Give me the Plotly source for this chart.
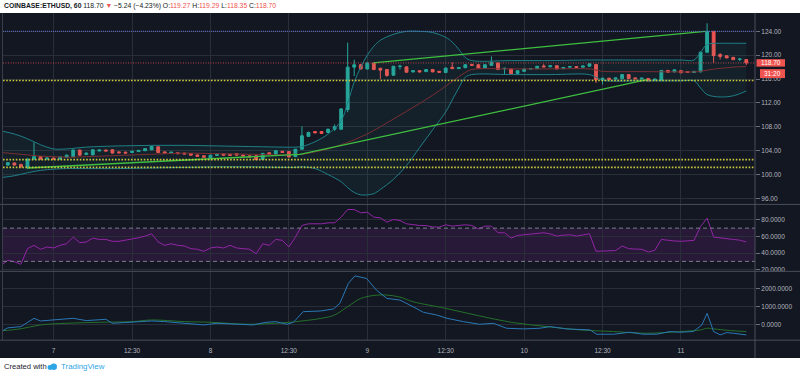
import plotly.graph_objects as go
from plotly.subplots import make_subplots

W, H = 800, 377

# ---------------- data ----------------
candle_idx = list(range(-7, 107))
opens = [101.6, 101.95, 101.7, 101.2, 102.6, 103.0, 102.6, 102.75, 102.6, 102.9,
         103.0, 104.1, 103.35, 103.3, 103.95, 104.1, 104.15, 103.8, 103.75, 103.7,
         103.85, 104.0, 104.15, 104.65, 103.8, 103.6, 103.65, 103.6, 103.5, 103.3,
         103.15, 102.75, 103.2, 103.45, 103.4, 103.5, 103.3, 103.15, 103.15, 102.55,
         103.65, 103.4, 103.9, 103.85, 103.0, 104.25, 106.4, 107.2, 107.2, 107.05,
         107.6, 107.6, 110.9, 118.0, 118.4, 117.7, 118.7, 117.8, 117.6, 116.65,
         118.1, 118.05, 117.2, 117.4, 117.25, 117.6, 117.3, 117.1, 117.97, 117.75,
         117.9, 118.45, 118.4, 117.85, 118.3, 118.7, 117.75, 117.7, 116.95, 117.3,
         117.7, 117.75, 118.2, 118.05, 118.25, 117.75, 118.0, 118.1, 118.0, 118.15,
         118.45, 115.9, 116.15, 116.0, 116.05, 116.75, 116.2, 116.0, 116.1, 115.8,
         115.75, 117.45, 117.2, 117.4, 117.25, 117.1, 117.2, 120.5, 124.0, 120.1,
         119.9, 119.65, 119.3, 119.27]
highs = [102.1, 102.0, 101.8, 102.7, 105.4, 103.1, 102.9, 102.9, 103.0, 103.35,
         104.2, 104.2, 103.7, 104.25, 104.2, 104.2, 104.2, 103.9, 103.85, 104.0,
         104.1, 104.4, 104.8, 104.7, 103.9, 103.8, 103.7, 103.65, 103.6, 103.35,
         103.2, 103.3, 103.5, 103.5, 103.45, 103.55, 103.35, 103.2, 103.2, 103.6,
         103.7, 104.05, 103.95, 103.9, 104.3, 108.1, 107.2, 107.3, 107.3, 107.7,
         108.4, 111.1, 122.1, 119.25, 118.5, 118.8, 118.8, 117.9, 117.7, 118.2,
         118.4, 118.1, 117.5, 117.5, 117.65, 117.65, 117.35, 117.9, 118.8, 118.0,
         118.5, 118.55, 118.5, 118.5, 119.8, 118.8, 117.9, 117.75, 117.45, 117.75,
         117.8, 118.2, 118.5, 118.3, 118.3, 118.0, 118.15, 118.15, 118.25, 118.6,
         118.5, 116.2, 116.2, 116.25, 116.8, 116.8, 116.25, 116.2, 116.15, 116.05,
         117.5, 117.5, 117.6, 117.45, 117.3, 117.35, 120.6, 125.35, 124.05, 120.35,
         120.0, 119.7, 119.55, 119.29]
lows = [101.5, 101.5, 101.2, 100.9, 102.5, 102.5, 102.5, 102.5, 102.5, 102.85,
        102.95, 103.2, 103.3, 103.25, 103.9, 103.9, 103.5, 103.55, 103.5, 103.65,
        103.8, 103.95, 104.1, 103.6, 103.5, 103.55, 103.45, 103.4, 103.2, 103.0,
        102.85, 102.7, 103.15, 103.2, 103.15, 103.2, 103.05, 102.9, 102.45, 102.5,
        103.35, 103.35, 103.65, 102.9, 102.95, 104.2, 106.3, 106.9, 106.85, 107.0,
        107.3, 107.5, 110.45, 116.5, 117.6, 117.6, 117.5, 116.0, 116.4, 116.55,
        117.6, 117.05, 117.1, 117.1, 117.2, 117.15, 117.1, 117.0, 117.7, 117.7,
        117.85, 118.25, 117.8, 117.8, 118.25, 117.5, 116.75, 116.8, 116.9, 117.25,
        117.65, 117.7, 118.0, 118.0, 117.65, 117.7, 117.95, 117.9, 117.95, 118.1,
        115.35, 115.1, 115.9, 115.95, 116.0, 116.05, 116.0, 115.95, 115.65, 115.75,
        115.7, 117.1, 117.15, 117.0, 117.05, 117.05, 117.15, 120.4, 118.7, 119.3,
        119.5, 119.2, 119.0, 118.35]
closes = [102.0, 101.6, 101.3, 102.6, 103.0, 102.6, 102.75, 102.6, 102.95, 103.25,
          104.1, 103.25, 103.6, 104.15, 104.1, 103.95, 103.6, 103.65, 103.6, 103.9,
          104.05, 104.35, 104.7, 103.7, 103.6, 103.75, 103.5, 103.45, 103.25, 103.05,
          102.9, 103.25, 103.4, 103.25, 103.2, 103.25, 103.1, 102.95, 102.5, 103.55,
          103.4, 104.0, 103.7, 102.95, 104.25, 106.5, 107.05, 107.0, 106.9, 107.6,
          108.0, 111.0, 118.0, 118.4, 117.7, 118.7, 117.6, 117.5, 116.6, 118.15,
          118.15, 117.15, 117.4, 117.2, 117.6, 117.2, 117.15, 117.85, 117.75, 117.95,
          118.4, 118.3, 117.85, 118.4, 118.8, 117.6, 117.8, 116.9, 117.4, 117.7,
          117.75, 118.15, 118.05, 118.25, 117.7, 117.95, 118.1, 117.95, 118.2, 118.55,
          115.9, 116.15, 115.95, 116.2, 116.75, 116.1, 116.05, 116.15, 115.7, 116.0,
          117.45, 117.15, 117.55, 117.05, 117.1, 117.3, 120.5, 124.0, 119.95, 119.8,
          119.55, 119.25, 119.35, 118.70]

bb_x = [-8, -6, -4, -2, 0, 2, 5, 10, 15, 20, 25, 30, 35, 37, 38, 40, 42, 44, 45, 46,
        47, 48, 49, 50, 52, 54, 56, 58, 60, 61, 62, 63, 64, 70, 76, 82, 83, 84, 90, 96,
        98, 99, 100, 102, 104, 106]
bb_upper = [107.3, 106.8, 106.0, 105.0, 104.3, 104.3, 104.6, 104.8, 104.9, 104.9,
            104.8, 104.7, 104.6, 104.6, 104.7, 105.5, 106.8, 109.0, 112.0, 115.5,
            118.0, 120.0, 121.5, 122.5, 123.5, 124.0, 124.0, 123.8, 123.0, 122.2,
            121.0, 119.6, 119.1, 119.1, 119.1, 119.2, 119.2, 119.2, 119.2, 119.2,
            119.2, 120.5, 121.8, 122.0, 122.0, 122.0]
bb_basis = [103.7, 103.5, 103.3, 103.1, 103.0, 102.9, 103.0, 103.2, 103.4, 103.6,
            103.5, 103.4, 103.3, 103.4, 103.4, 103.8, 104.3, 105.0, 105.4, 105.8,
            106.3, 106.8, 107.4, 108.0, 109.3, 110.6, 111.9, 113.3, 114.8, 115.6,
            116.4, 117.1, 117.6, 117.7, 117.7, 117.7, 117.5, 117.3, 117.25, 117.2,
            117.2, 117.3, 117.5, 117.8, 118.0, 118.1]
bb_lower = [99.5, 99.8, 100.3, 100.7, 100.9, 101.0, 101.0, 101.0, 101.1, 101.2,
            101.3, 101.3, 101.2, 101.2, 101.3, 101.0, 100.0, 98.8, 97.8, 97.0,
            96.6, 96.6, 96.8, 97.5, 99.2, 101.5, 104.5, 107.5, 110.5, 112.5,
            114.5, 116.3, 116.75, 116.75, 116.75, 116.75, 116.3, 115.8, 115.7, 115.7,
            115.7, 114.5, 113.4, 113.0, 113.2, 114.0]

trend_up_x = [48.9, 99.7]
trend_up_y = [118.7, 124.0]
trend_low_x = [-4, 37.7, 90.8]
trend_low_y = [101.1, 103.4, 115.9]

level_blue = 124.0
levels_yellow = [115.75, 102.5, 101.2]

rsi_x = list(range(-8, 107))
rsi_y = [25.3, 31.3, 29.5, 26.5, 45.3, 49.3, 44.5, 47.3, 46.1, 49.3,
         51.2, 59.2, 52.5, 53.3, 58.0, 56.4, 56.4, 54.1, 54.1, 55.3,
         57.2, 58.4, 60.4, 63.2, 53.3, 49.3, 51.2, 49.3, 48.5, 45.3,
         44.5, 42.1, 46.1, 47.3, 46.1, 49.3, 46.1, 45.5, 44.5, 39.3,
         51.2, 49.3, 56.4, 55.3, 47.3, 59.2, 73.2, 75.2, 75.2, 75.2,
         76.4, 76.4, 83.2, 92.4, 92.4, 88.4, 89.2, 83.2, 82.4, 77.2,
         80.4, 79.2, 75.2, 74.0, 73.2, 73.0, 71.5, 71.2, 74.0, 72.4,
         73.0, 74.0, 73.2, 69.2, 72.4, 72.4, 64.4, 64.4, 58.0, 61.2,
         62.0, 62.8, 63.2, 64.4, 63.0, 60.4, 61.5, 62.0, 60.4, 62.0,
         63.2, 42.1, 42.1, 42.3, 43.0, 48.5, 45.3, 44.8, 44.5, 41.3,
         43.3, 56.4, 55.3, 54.5, 54.1, 55.0, 55.3, 72.0, 82.0, 59.2,
         58.0, 57.0, 56.4, 55.5, 53.3]

osc_blue_x = [-8, -7, -5, -3, -2, 0.5, 3, 5, 7, 8, 9, 12, 15, 17, 20, 23, 25, 27.5,
              30.5, 32.5, 34, 35.7, 36.7, 38.2, 40.8, 42.8, 43.8, 45.1, 46.1, 47.9,
              49.4, 51, 53, 55, 56.6, 58.6, 60.2, 62.7, 65.2, 67.3, 69.3, 71.9, 74.4,
              76, 78.5, 82.1, 83.1, 85.7, 88.2, 90.2, 92.3, 94.3, 95.8, 97.9, 99.2,
              100, 101, 102, 103, 104, 105, 106]
osc_blue_y = [-400, -200, -130, 333, 185, 240, 333, 204, 278, 278, 55, 111, 185, 148,
              55, -37, 55, 0, -37, 111, 148, 0, 111, 704, 741, 852, 1167, 2278, 2704,
              2556, 1907, 1444, 1352, 981, 667, 519, 333, 148, 0, 55, -222, -259, -222,
              -130, -259, -315, -556, -556, -444, -556, -556, -407, -444, -407, -37,
              611, -407, -593, -463, -500, -556, -593]
osc_green_x = [-8, -5, -2, 2, 7, 12, 15, 20, 24, 30, 36, 38, 41, 43, 45, 47, 49.5,
               51, 53, 55, 60, 65, 70, 75.5, 80.5, 85.7, 90.8, 95.9, 99, 100, 101,
               103.6, 106]
osc_green_y = [-370, -250, -37, 55, 111, 148, 240, 148, 111, 0, 111, 185, 333, 518,
               981, 1444, 1629, 1629, 1518, 1259, 889, 481, 111, -130, -315, -407,
               -500, -407, -315, -222, -259, -352, -407]

time_tick_idx = [0, 12, 24, 36, 48, 60, 72, 84, 96]
time_tick_text = ['7', '12:30', '8', '12:30', '9', '12:30', '10', '12:30', '11']
price_ticks = [96, 100, 104, 108, 112, 116, 120, 124]
rsi_ticks = [20, 40, 60, 80]
osc_ticks = [0, 1000, 2000]
rsi_band = [30, 70]

symbol = 'COINBASE:ETHUSD, 60'
last_change = '−5.24 (−4.23%)'
countdown = '31:20'

# ---------------- geometry helpers ----------------
def fx(p):
    return p / W

def fy(p):
    return 1 - p / H

PX0, PX1 = 3, 755          # plot area left/right in px
IDX0_PX, PX_PER = 53.6, 6.535
xr = [(PX0 - IDX0_PX) / PX_PER, (PX1 - IDX0_PX) / PX_PER]

# main pane: 124 at y=31.5px, 6px per unit
m_top, m_bot = 13.5, 205
yr1 = [124 - (m_bot - 31.5) / 6, 124 + (31.5 - m_top) / 6]
# rsi pane: 80 at y=221, 0.835 px/unit
r_top, r_bot = 205.5, 272.5
yr2 = [80 - (r_bot - 221) / 0.835, 80 + (221 - r_top) / 0.835]
# osc pane: 0 at y=326, 0.018 px/unit
o_top, o_bot = 273, 342
yr3 = [-(o_bot - 326) / 0.018, (326 - o_top) / 0.018]

BG = '#131722'
GRID = '#2a2e39'
TXT = '#b2b5be'
SEP = '#4a4e5a'
UP, DN = '#26a69a', '#ef5350'
AXF = 'Liberation Sans, Arial, sans-serif'
NARROW = 'Liberation Sans Narrow, Arial Narrow, sans-serif'

fig = make_subplots(rows=3, cols=1, shared_xaxes=True, vertical_spacing=0)

# Bollinger band fill + lines
fig.add_trace(go.Scatter(x=bb_x, y=bb_upper, mode='lines', line=dict(color='#1f7f86', width=1, shape='spline'),
                         hoverinfo='skip'), row=1, col=1)
fig.add_trace(go.Scatter(x=bb_x, y=bb_lower, mode='lines', line=dict(color='#1f7f86', width=1, shape='spline'),
                         fill='tonexty', fillcolor='rgba(38,166,154,0.07)', hoverinfo='skip'), row=1, col=1)
fig.add_trace(go.Scatter(x=bb_x, y=bb_basis, mode='lines', line=dict(color='#7b2f33', width=1, shape='spline'),
                         hoverinfo='skip'), row=1, col=1)

# trend lines
fig.add_trace(go.Scatter(x=trend_up_x, y=trend_up_y, mode='lines', line=dict(color='#3fbf3f', width=1.3),
                         hoverinfo='skip'), row=1, col=1)
fig.add_trace(go.Scatter(x=trend_low_x, y=trend_low_y, mode='lines', line=dict(color='#3fbf3f', width=1.3),
                         hoverinfo='skip'), row=1, col=1)

# candles
fig.add_trace(go.Candlestick(x=candle_idx, open=opens, high=highs, low=lows, close=closes,
                             increasing=dict(line=dict(color=UP, width=1), fillcolor=UP),
                             decreasing=dict(line=dict(color=DN, width=1), fillcolor=DN),
                             whiskerwidth=0, hoverinfo='skip'), row=1, col=1)

# RSI
fig.add_trace(go.Scatter(x=rsi_x, y=rsi_y, mode='lines', line=dict(color='#9226a6', width=1),
                         hoverinfo='skip'), row=2, col=1)

# oscillator pane
fig.add_trace(go.Scatter(x=osc_green_x, y=osc_green_y, mode='lines', line=dict(color='#25702b', width=1, shape='spline'),
                         hoverinfo='skip'), row=3, col=1)
fig.add_trace(go.Scatter(x=osc_blue_x, y=osc_blue_y, mode='lines', line=dict(color='#2a78b5', width=1),
                         hoverinfo='skip'), row=3, col=1)

shapes = []
# dark chart background
shapes.append(dict(type='rect', xref='paper', yref='paper', x0=0, x1=1, y0=fy(360), y1=fy(13),
                   fillcolor=BG, line=dict(width=0), layer='below'))
# RSI band
shapes.append(dict(type='rect', xref='x2 domain', yref='y2', x0=0, x1=1, y0=rsi_band[0], y1=rsi_band[1],
                   fillcolor='rgba(155,39,176,0.16)', line=dict(width=0), layer='below'))
for v in rsi_band:
    shapes.append(dict(type='line', xref='x2 domain', yref='y2', x0=0, x1=1, y0=v, y1=v,
                       line=dict(color='#7d7f8c', width=1, dash='4px,3px'), layer='above'))
# horizontal drawings
shapes.append(dict(type='line', xref='x domain', yref='y', x0=0, x1=1, y0=level_blue, y1=level_blue,
                   line=dict(color='#5c6ec4', width=1, dash='1px,1px'), layer='above'))
for v in levels_yellow:
    shapes.append(dict(type='line', xref='x domain', yref='y', x0=0, x1=1, y0=v, y1=v,
                       line=dict(color='#c9c83c', width=1.6, dash='1.6px,1.6px'), layer='above'))
shapes.append(dict(type='line', xref='x domain', yref='y', x0=0, x1=1, y0=closes[-1], y1=closes[-1],
                   line=dict(color='#c0454a', width=1, dash='1px,1.5px'), layer='above'))
# pane separators and borders
for yy in [205.5, 272.8]:
    shapes.append(dict(type='line', xref='paper', yref='paper', x0=0, x1=1, y0=fy(yy), y1=fy(yy),
                       line=dict(color=SEP, width=1), layer='above'))
shapes.append(dict(type='line', xref='paper', yref='paper', x0=0, x1=1, y0=fy(342), y1=fy(342),
                   line=dict(color=SEP, width=1), layer='above'))
shapes.append(dict(type='line', xref='paper', yref='paper', x0=fx(755), x1=fx(755), y0=fy(360), y1=fy(13),
                   line=dict(color=SEP, width=1), layer='above'))
shapes.append(dict(type='line', xref='paper', yref='paper', x0=fx(2.5), x1=fx(2.5), y0=fy(342), y1=fy(13),
                   line=dict(color='#3a3e4a', width=1), layer='above'))
# price label boxes
shapes.append(dict(type='rect', xref='paper', yref='paper', x0=fx(756.5), x1=fx(785), y0=fy(67), y1=fy(59.5),
                   fillcolor='#ef5350', line=dict(width=0), layer='above'))
shapes.append(dict(type='rect', xref='paper', yref='paper', x0=fx(760), x1=fx(785), y0=fy(78.5), y1=fy(69.5),
                   fillcolor='#ef5350', line=dict(width=0), layer='above'))
# TradingView logo blobs
shapes.append(dict(type='circle', xref='paper', yref='paper', x0=fx(47.5), x1=fx(52.5), y0=fy(372), y1=fy(367),
                   fillcolor='#2ea6e6', line=dict(width=0)))
shapes.append(dict(type='circle', xref='paper', yref='paper', x0=fx(50.5), x1=fx(57), y0=fy(372), y1=fy(365.5),
                   fillcolor='#2ea6e6', line=dict(width=0)))

red = '#ef5350'
dark = '#131722'
header = (f"<b>{symbol}</b> {closes[-1]:.2f} <span style='color:{red}'>▼</span> {last_change} "
          f"O:<span style='color:{red}'>{opens[-1]:.2f}</span> H:<span style='color:{red}'>{highs[-1]:.2f}</span> "
          f"L:<span style='color:{red}'>{lows[-1]:.2f}</span> C:<span style='color:{red}'>{closes[-1]:.2f}</span>")

annotations = [
    dict(text=header, xref='paper', yref='paper', x=fx(2), y=fy(6.5), xanchor='left', yanchor='middle',
         showarrow=False, font=dict(family=NARROW, size=6.8, color=dark)),
    dict(text=f"{closes[-1]:.2f}", xref='paper', yref='paper', x=fx(771), y=fy(63.3), xanchor='center',
         yanchor='middle', showarrow=False, font=dict(family=AXF, size=6.5, color='white')),
    dict(text=countdown, xref='paper', yref='paper', x=fx(772.5), y=fy(74), xanchor='center',
         yanchor='middle', showarrow=False, font=dict(family=AXF, size=6.5, color='white')),
    dict(text='Created with', xref='paper', yref='paper', x=fx(2), y=fy(368.5), xanchor='left', yanchor='middle',
         showarrow=False, font=dict(family=AXF, size=7.6, color='#1e222d')),
    dict(text='TradingView', xref='paper', yref='paper', x=fx(58.5), y=fy(368.5), xanchor='left', yanchor='middle',
         showarrow=False, font=dict(family=AXF, size=7.9, color='#2ea6e6')),
]

fig.update_layout(
    width=W, height=H, margin=dict(l=0, r=0, t=0, b=0),
    paper_bgcolor='white', plot_bgcolor='rgba(0,0,0,0)',
    showlegend=False, shapes=shapes, annotations=annotations,
    boxgap=0.38, hovermode=False,
    font=dict(family=AXF, size=6.5, color=TXT),
)

xcommon = dict(range=xr, domain=[fx(PX0), fx(PX1)], tickvals=time_tick_idx, showgrid=True, gridcolor=GRID,
               gridwidth=1, zeroline=False, showline=False, fixedrange=True)
fig.update_layout(
    xaxis=dict(**xcommon, showticklabels=False, rangeslider=dict(visible=False)),
    xaxis2=dict(**xcommon, showticklabels=False),
    xaxis3=dict(**xcommon, showticklabels=True, ticktext=time_tick_text, ticks='outside', ticklen=4,
                tickcolor='rgba(0,0,0,0)', tickfont=dict(family=AXF, size=6.5, color=TXT)),
)

ycommon = dict(side='right', showgrid=True, gridcolor=GRID, gridwidth=1, zeroline=False, showline=False,
               ticks='outside', ticklen=4, tickcolor='#6b6e79', tickfont=dict(family=AXF, size=6.5, color=TXT),
               fixedrange=True)
fig.update_layout(
    yaxis=dict(**ycommon, domain=[fy(m_bot), fy(m_top)], range=yr1, tickvals=price_ticks, tickformat='.2f'),
    yaxis2=dict(**ycommon, domain=[fy(r_bot), fy(r_top)], range=yr2, tickvals=rsi_ticks, tickformat='.4f'),
    yaxis3=dict(**ycommon, domain=[fy(o_bot), fy(o_top)], range=yr3, tickvals=osc_ticks, tickformat='.4f'),
)

fig.write_html("out.html", config={'displayModeBar': False},
               post_script="document.body.style.margin='0';document.body.style.overflow='hidden';")
